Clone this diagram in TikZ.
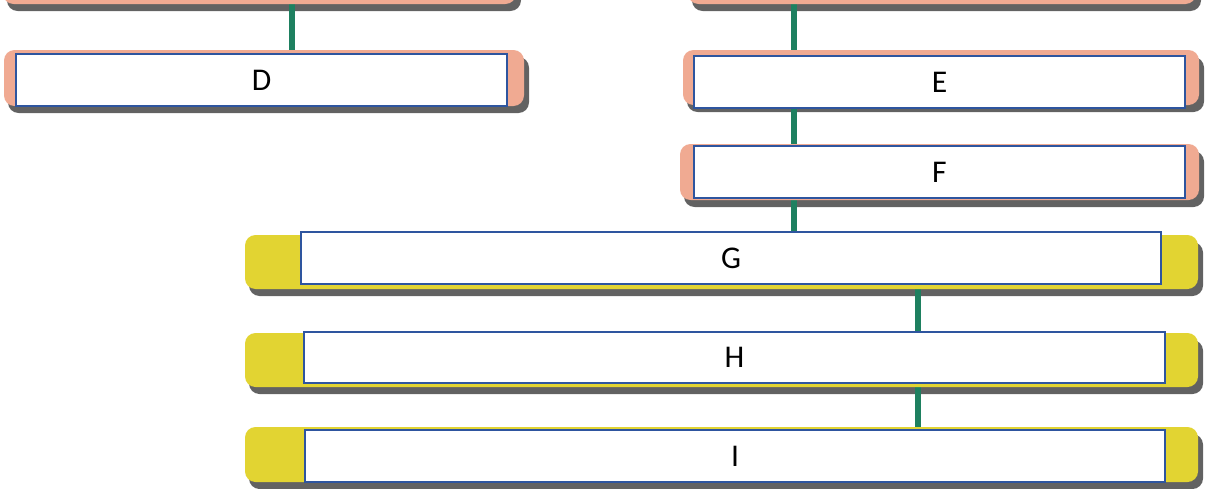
\documentclass[tikz,border=0pt]{standalone}
\usepackage{fontspec}
\setmainfont{Carlito}
\usetikzlibrary{backgrounds}
\definecolor{qsalmon}{RGB}{240,170,146}
\definecolor{qyellow}{RGB}{226,212,50}
\definecolor{qgreen}{RGB}{30,128,96}
\definecolor{qblue}{RGB}{46,85,159}
\pgfdeclarelayer{shadows}
\pgfdeclarelayer{links}
\pgfdeclarelayer{bars}
\pgfsetlayers{shadows,links,bars,main}

\begin{document}
\begin{tikzpicture}[x=0.02cm,y=-0.02cm,
  box/.style={draw=qblue, line width=1.2pt, fill=white, inner sep=0pt,
    minimum height=52*0.02cm, font=\fontsize{18}{20}\selectfont},
  link/.style={draw=qgreen, line width=3.8pt},
  barshadow/.style={fill=black!72, opacity=0.85, rounded corners=6pt}]

\def\u{0.02cm}
\useasboundingbox (0,0) rectangle (1207,488);
\clip (0,0) rectangle (1207,488);

%x of the vertical links
\coordinate (xl) at (292,0);
\coordinate (xm) at (794,0);
\coordinate (xr) at (918,0);

%boxes
\node[box, minimum width=491*\u] (D) at (261.5,80) {D};
\node[box, minimum width=491*\u] (E) at (939.5,82) {E};
\node[box, minimum width=491*\u] (F) at (939.5,172) {F};
\node[box, minimum width=860*\u] (G) at (731,258) {G};
\node[box, minimum width=861*\u, minimum height=51*\u] (H) at (734.5,357.5) {H};
\node[box, minimum width=860*\u] (I) at (735,456) {I};

%coloured bars with shadow
\foreach \xa/\ya/\xb/\yb/\col in {3/-60/516/4/qsalmon, 688/-60/1196/4/qsalmon,
    4/50/524/106/qsalmon, 683/50/1199/105/qsalmon, 680/144/1199/200/qsalmon,
    245/235/1198/289/qyellow, 245/333/1198/387/qyellow, 245/427/1198/482/qyellow}{
  \begin{pgfonlayer}{shadows}
    \fill[barshadow] (\xa+4,\ya+7) rectangle (\xb+5,\yb+7);
  \end{pgfonlayer}
  \begin{pgfonlayer}{bars}
    \fill[color=\col, rounded corners=6pt] (\xa,\ya) rectangle (\xb,\yb);
  \end{pgfonlayer}
}

%links
\begin{pgfonlayer}{links}
  \draw[link] (xl) -- (D.center -| xl);
  \draw[link] (xm) -- (E.center -| xm);
  \draw[link] (E.center -| xm) -- (F.center -| xm);
  \draw[link] (F.center -| xm) -- (G.center -| xm);
  \draw[link] (G.center -| xr) -- (H.center -| xr);
  \draw[link] (H.center -| xr) -- (I.center -| xr);
\end{pgfonlayer}

\end{tikzpicture}
\end{document}
